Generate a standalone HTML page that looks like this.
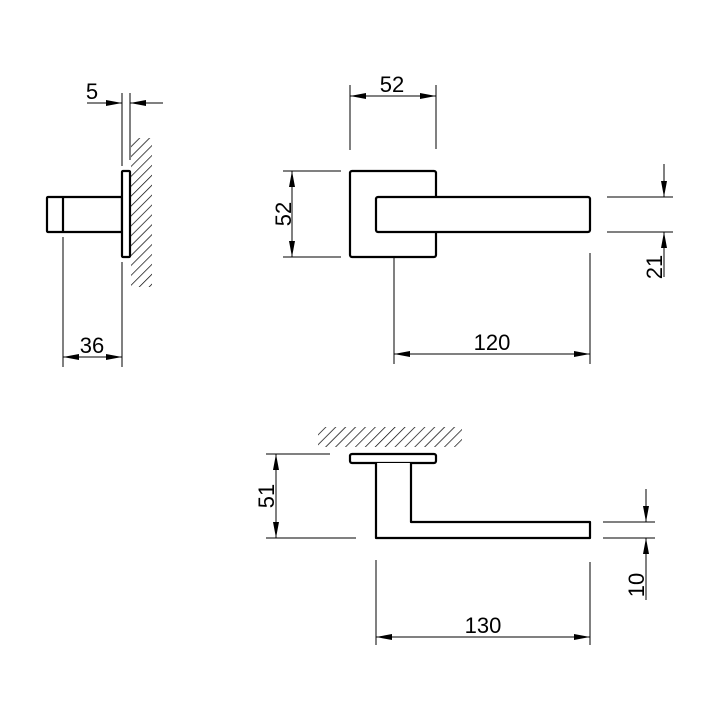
<!DOCTYPE html>
<html><head><style>body{margin:0;background:#fff}svg{display:block}text{font-family:"Liberation Sans",sans-serif;font-size:22px;fill:#000}</style></head><body>
<svg width="720" height="720" viewBox="0 0 720 720" xmlns="http://www.w3.org/2000/svg">
<defs>
<marker id="a" viewBox="0 0 16 6" refX="16" refY="3" markerWidth="16" markerHeight="6" markerUnits="userSpaceOnUse" orient="auto-start-reverse"><path d="M0,0 L16,3 L0,6 Z" fill="#000"/></marker>
<pattern id="h" width="7" height="7" patternUnits="userSpaceOnUse" patternTransform="rotate(45)"><line x1="0" y1="0" x2="0" y2="7" stroke="#000" stroke-width="1.4"/></pattern>
</defs>
<g fill="none" stroke="#000" stroke-width="1">
<rect x="131" y="138" width="21" height="149" fill="url(#h)" stroke="none"/>
<line x1="122" y1="93" x2="122" y2="166"/><line x1="130" y1="93" x2="130" y2="160"/>
<line x1="87" y1="103" x2="122" y2="103" marker-end="url(#a)"/>
<line x1="163" y1="103" x2="130" y2="103" marker-end="url(#a)"/>
<line x1="63" y1="237" x2="63" y2="367"/><line x1="122" y1="262" x2="122" y2="367"/>
<line x1="63" y1="357" x2="122" y2="357" marker-start="url(#a)" marker-end="url(#a)"/>
<line x1="350" y1="85" x2="350" y2="150"/><line x1="436" y1="85" x2="436" y2="149"/>
<line x1="350" y1="96" x2="436" y2="96" marker-start="url(#a)" marker-end="url(#a)"/>
<line x1="283" y1="171" x2="341" y2="171"/><line x1="283" y1="257" x2="341" y2="257"/>
<line x1="292" y1="171" x2="292" y2="257" marker-start="url(#a)" marker-end="url(#a)"/>
<line x1="394" y1="257" x2="394" y2="364"/><line x1="590" y1="253" x2="590" y2="364"/>
<line x1="394" y1="354" x2="590" y2="354" marker-start="url(#a)" marker-end="url(#a)"/>
<line x1="607" y1="197" x2="673" y2="197"/><line x1="607" y1="232" x2="673" y2="232"/>
<line x1="664" y1="164" x2="664" y2="197" marker-end="url(#a)"/>
<line x1="664" y1="277" x2="664" y2="232" marker-end="url(#a)"/>
<rect x="318" y="427" width="144" height="20" fill="url(#h)" stroke="none"/>
<line x1="266" y1="454" x2="330" y2="454"/><line x1="266" y1="538" x2="356" y2="538"/>
<line x1="276" y1="454" x2="276" y2="538" marker-start="url(#a)" marker-end="url(#a)"/>
<line x1="603" y1="522" x2="655" y2="522"/><line x1="603" y1="538" x2="655" y2="538"/>
<line x1="646" y1="489" x2="646" y2="522" marker-end="url(#a)"/>
<line x1="646" y1="600" x2="646" y2="538" marker-end="url(#a)"/>
<line x1="376" y1="560" x2="376" y2="645"/><line x1="590" y1="562" x2="590" y2="645"/>
<line x1="376" y1="637" x2="590" y2="637" marker-start="url(#a)" marker-end="url(#a)"/>
</g>
<g fill="#fff" stroke="#000" stroke-width="2.2" stroke-linejoin="round">
<rect x="47" y="197" width="75" height="35" rx="1"/>
<line x1="63" y1="197" x2="63" y2="232"/>
<rect x="122" y="171" width="8" height="86" rx="1"/>
<rect x="350" y="171" width="86" height="86" rx="2"/>
<rect x="376" y="197" width="214" height="35" rx="2"/>
<rect x="350" y="454" width="86" height="9" rx="2"/>
<path d="M376,463 L376,538 L590,538 L590,522 L411,522 L411,463"/>
</g>
<text x="92" y="99" text-anchor="middle">5</text>
<text x="92" y="353" text-anchor="middle">36</text>
<text x="392" y="92" text-anchor="middle">52</text>
<text x="492" y="350" text-anchor="middle">120</text>
<text x="483" y="633" text-anchor="middle">130</text>
<text transform="translate(291,214) rotate(-90)" text-anchor="middle">52</text>
<text transform="translate(662,267) rotate(-90)" text-anchor="middle">21</text>
<text transform="translate(274,496) rotate(-90)" text-anchor="middle">51</text>
<text transform="translate(644,585) rotate(-90)" text-anchor="middle">10</text>
</svg>
</body></html>
